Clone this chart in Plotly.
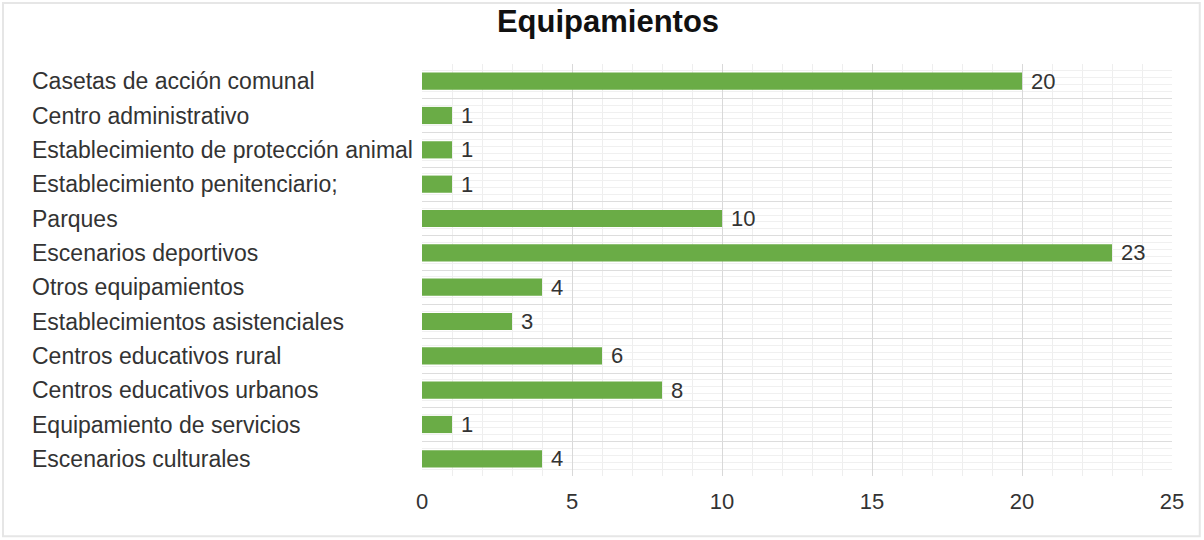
import plotly.graph_objects as go

categories = [
    "Casetas de acción comunal",
    "Centro administrativo",
    "Establecimiento de protección animal",
    "Establecimiento penitenciario;",
    "Parques",
    "Escenarios deportivos",
    "Otros equipamientos",
    "Establecimientos asistenciales",
    "Centros educativos rural",
    "Centros educativos urbanos",
    "Equipamiento de servicios",
    "Escenarios culturales",
]
values = [20, 1, 1, 1, 10, 23, 4, 3, 6, 8, 1, 4]
x_ticks = [0, 5, 10, 15, 20, 25]

pos = list(range(len(categories)))
n = len(categories)
FONT = "Liberation Sans, Arial, sans-serif"
FS = 22

fig = go.Figure()
fig.add_trace(go.Bar(
    x=values, y=pos, orientation="h", width=0.5,
    marker=dict(color="#6aac46", line=dict(width=0)),
    texttemplate=" %{x}", textposition="outside", constraintext="none",
    textfont=dict(size=FS, color="#333333", family=FONT),
    cliponaxis=False, hoverinfo="skip",
))
# invisible trace to anchor band-boundary grid axis
fig.add_trace(go.Scatter(x=[0], y=[0], yaxis="y2", mode="markers",
                         marker=dict(opacity=0), showlegend=False, hoverinfo="skip"))

for i, c in zip(pos, categories):
    fig.add_annotation(x=-0.5227, xref="paper", y=i, yref="y", text=c,
                       showarrow=False, xanchor="left", yanchor="middle",
                       font=dict(size=23, color="#333333", family=FONT))

fig.update_layout(
    width=1204, height=540,
    margin=dict(l=422, r=32, t=64, b=64),
    paper_bgcolor="white", plot_bgcolor="white",
    showlegend=False,
    title=dict(text="<b>Equipamientos</b>", x=0.505, xref="container", xanchor="center",
               y=0.96, yanchor="middle", font=dict(size=31, color="#111111", family=FONT)),
    xaxis=dict(range=[0, 25], tickvals=x_ticks, showgrid=True, gridcolor="#d9d9d9",
               gridwidth=1, zeroline=False, showline=False,
               tickfont=dict(size=FS, color="#333333", family=FONT), ticks="",
               ticklabelstandoff=10,
               minor=dict(dtick=1, tick0=0, showgrid=True, gridcolor="#eeeeee", gridwidth=1)),
    yaxis=dict(range=[n - 0.5, -0.5], tickvals=pos, showticklabels=False, showgrid=False,
               zeroline=False, showline=False, ticks="",
               minor=dict(tick0=0.5, dtick=0.2, showgrid=True, gridcolor="#f0f0f0", gridwidth=1)),
    yaxis2=dict(range=[n - 0.5, -0.5], overlaying="y", side="left",
                tickvals=[p + 0.5 for p in pos], showticklabels=False, showgrid=True,
                gridcolor="#dddddd", gridwidth=1, zeroline=False, showline=False, ticks=""),
    shapes=[dict(type="rect", xref="paper", yref="paper", x0=-0.5587, x1=1.037, y0=-0.146, y1=1.148,
                 line=dict(color="#e6e6e6", width=2), fillcolor="rgba(0,0,0,0)", layer="below")],
)
fig.write_html("out.html", config={"displayModeBar": False},
               post_script="document.body.style.margin='0px';")
